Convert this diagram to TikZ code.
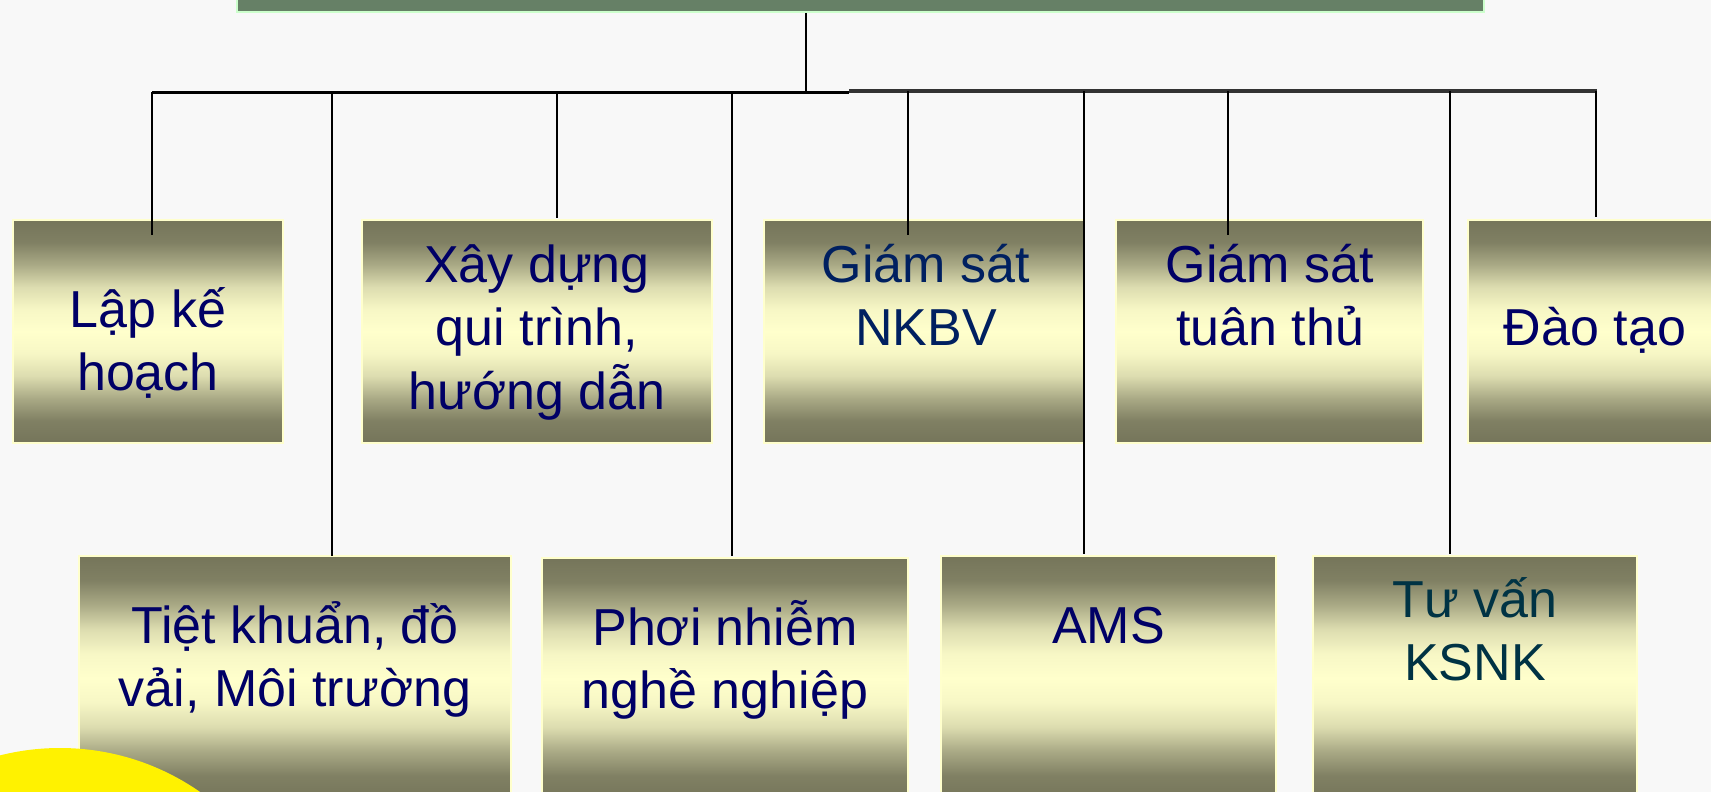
\documentclass[tikz,border=0pt]{standalone}
\usepackage{fontspec}
\setmainfont{Liberation Sans}
\usetikzlibrary{calc}
\definecolor{bg}{HTML}{F8F8F8}
\definecolor{barfill}{HTML}{668066}
\definecolor{barline}{HTML}{CCFFCC}
\definecolor{oliveD}{HTML}{75755A}
\definecolor{cream}{HTML}{FFFFCC}
\definecolor{navy}{HTML}{000066}
\definecolor{navyb}{HTML}{002060}
\definecolor{tealtxt}{HTML}{003344}
\definecolor{boxedge}{HTML}{FFFFCC}
\definecolor{grayline}{HTML}{333333}
\colorlet{sa}{oliveD!92!cream}
\colorlet{sb}{oliveD!62!cream}
\colorlet{sc}{oliveD!25!cream}
\colorlet{sd}{oliveD!6!cream}
\pgfdeclareverticalshading{olivebox}{100bp}{color(0bp)=(oliveD); color(25bp)=(oliveD); color(30bp)=(sa); color(35bp)=(sb); color(40bp)=(sc); color(45bp)=(sd); color(50bp)=(cream); color(55bp)=(sd); color(60bp)=(sc); color(65bp)=(sb); color(70bp)=(sa); color(75bp)=(oliveD); color(100bp)=(oliveD)}
\newcommand{\mylines}[1]{\vtop{\halign{\hfil##\hfil\cr#1\crcr}}}
\tikzset{
  boxnode/.style={shading=olivebox, draw=boxedge, line width=1.2pt, inner sep=0pt, outer sep=0pt},
  txt/.style={anchor=base, inner sep=0pt, font=\fontsize{52}{63.5}\selectfont, text=navy},
  conn/.style={draw=black, line width=1.8pt},
  thickconn/.style={draw=black, line width=3pt},
}
\begin{document}
\begin{tikzpicture}[x=1pt, y=-1pt]
\useasboundingbox (0,0) rectangle (1711,792);
\clip (0,0) rectangle (1711,792);
\fill[bg] (0,0) rectangle (1711,792);

% top bar
\node[fill=barfill, draw=barline, line width=2pt, inner sep=0pt, minimum width=1247pt, minimum height=64pt] (top) at (860.5,-20) {};

% boxes row 1
\node[boxnode, minimum width=270pt, minimum height=223pt] (b1) at (148,331.5) {};
\node[boxnode, minimum width=350pt, minimum height=223pt] (b2) at (537,331.5) {};
\node[boxnode, minimum width=320pt, minimum height=223pt] (b3) at (924,331.5) {};
\node[boxnode, minimum width=307pt, minimum height=223pt] (b4) at (1269.5,331.5) {};
\node[boxnode, minimum width=254pt, minimum height=223pt] (b5) at (1595,331.5) {};
% boxes row 2
\node[boxnode, minimum width=432pt, minimum height=244pt] (b6) at (295,678) {};
\node[boxnode, minimum width=366pt, minimum height=242pt] (b7) at (725,679) {};
\node[boxnode, minimum width=335pt, minimum height=244pt] (b8) at (1108.5,678) {};
\node[boxnode, minimum width=324pt, minimum height=244pt] (b9) at (1475,678) {};

% connectors
\coordinate (hub) at (806,92);
\coordinate (hl) at (152,92);
\coordinate (hm) at (849,92);
\coordinate (hm2) at (849,91);
\coordinate (hr) at (1597,91);
\draw[line width=2.5pt] (hub |- top.south) -- (hub);
\draw[thickconn] (hl) -- (hm);
\draw[draw=grayline, line width=3.4pt] (hm2) -- (hr);

\coordinate (c1) at (152,92);
\coordinate (c2) at (332,92);
\coordinate (c3) at (557,92);
\coordinate (c4) at (732,92);
\coordinate (c5) at (908,91);
\coordinate (c6) at (1084,91);
\coordinate (c7) at (1228,91);
\coordinate (c8) at (1450,91);
\coordinate (c9) at (1596,91);
\draw[conn] (c1) -- ($(c1 |- b1.north)+(0,15)$);
\draw[conn] (c2) -- (c2 |- b6.north);
\draw[conn] (c3) -- ($(c3 |- b2.north)+(0,-2)$);
\draw[conn] (c4) -- ($(c4 |- b7.north)+(0,-2)$);
\draw[conn] (c5) -- ($(c5 |- b3.north)+(0,15)$);
\draw[conn] (c6) -- ($(c6 |- b8.north)+(0,-2)$);
\draw[conn] (c7) -- ($(c7 |- b4.north)+(0,15)$);
\draw[conn] (c8) -- ($(c8 |- b9.north)+(0,-2)$);
\draw[thickconn, line width=2.6pt] (c9) -- ($(c9 |- b5.north)+(0,-3)$);

% texts
\node[txt] (t1) at (148,327) {\mylines{Lập kế\cr hoạch}};
\node[txt] (t2) at (537,282) {\mylines{Xây dựng\cr qui trình,\cr hướng dẫn}};
\node[txt, text=navyb] (t3) at (926,282) {\mylines{Giám sát\cr NKBV}};
\node[txt] (t4) at (1270,282) {\mylines{Giám sát\cr tuân thủ}};
\node[txt] (t5) at (1595,345) {\mylines{Đào tạo}};
\node[txt] (t6) at (295,643) {\mylines{Tiệt khuẩn, đồ\cr vải, Môi trường}};
\node[txt] (t7) at (725,645) {\mylines{Phơi nhiễm\cr nghề nghiệp}};
\node[txt] (t8) at (1108.5,643) {\mylines{AMS}};
\node[txt, text=tealtxt] (t9) at (1475,617) {\mylines{Tư vấn\cr KSNK}};

% yellow circle
\fill[yellow] (60,993) circle[radius=245pt];
\end{tikzpicture}
\end{document}
